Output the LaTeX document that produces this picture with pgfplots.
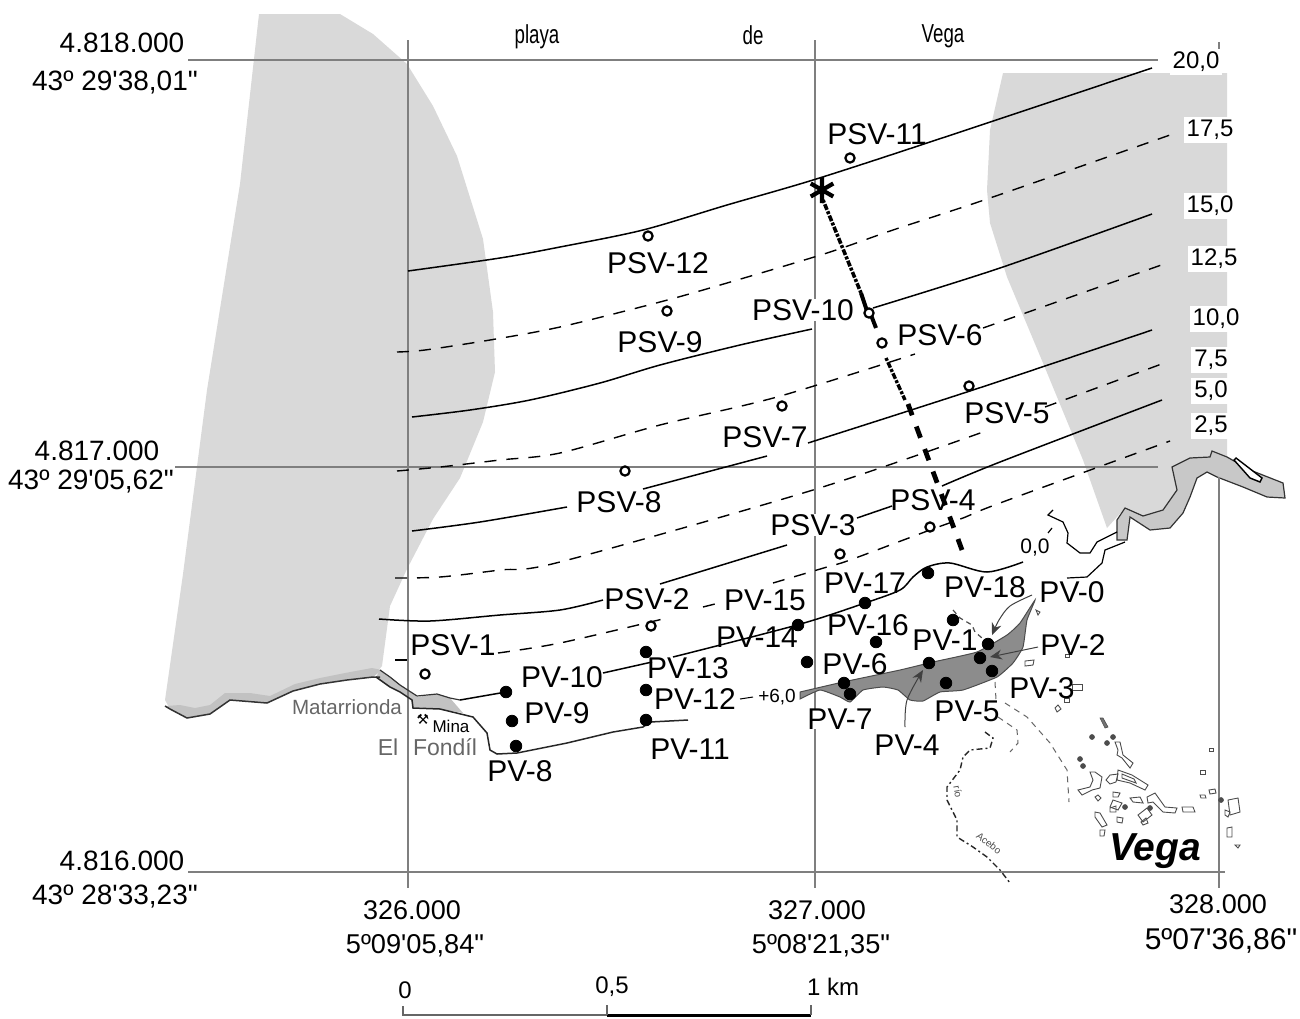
\documentclass[border=0pt]{standalone}
\usepackage{pgfplots}
\pgfplotsset{compat=1.18}
\usepackage{fontspec}
\usetikzlibrary{arrows.meta}
\newfontfamily\ls{Liberation Sans}
\newfontfamily\dv{DejaVu Sans}
\definecolor{lg}{HTML}{D9D9D9}
\definecolor{dg}{HTML}{8C8C8C}
\definecolor{grd}{HTML}{7F7F7F}
\newcommand\lab[4][]{\node[font=\ls\fontsize{15}{15}\selectfont,inner sep=0pt,#1] at (axis cs:#2,#3) {#4};}
\newcommand\clab[3]{\node[font=\ls\fontsize{12}{12}\selectfont,fill=white,inner sep=1.5pt] at (axis cs:#1,#2) {#3};}
\newcommand\cl[1]{\addplot[black,line width=0.75pt,smooth,tension=0.5] coordinates {#1};}
\newcommand\dl[1]{\addplot[black,line width=0.7pt,smooth,tension=0.5,dash pattern=on 6pt off 5pt] coordinates {#1};}
\newcommand\gl[1]{\addplot[grd,line width=0.7pt] coordinates {#1};}
\newcommand\bd[1]{\addplot[draw=black!70,line width=0.45pt] coordinates {#1} -- cycle;}
\begin{document}
\begin{tikzpicture}
\useasboundingbox (0,0) rectangle (650pt,509pt);
\begin{axis}[at={(0,0)},anchor=south west,scale only axis,width=650pt,height=509pt,xmin=0,xmax=1300,ymin=0,ymax=1018,y dir=reverse,axis lines=none,clip=true]
% grey hills
\addplot[fill=lg,draw=none] coordinates {(259,14)(340,14)(373,34)(407,64)(433,106)(457,156)(483,239)(493,312)(495,372)(483,422)(460,478)(433,519)(407,569)(390,606)(382,666)(373,677)(347,680)(320,684)(293,691)(267,703)(230,700)(210,714)(187,718)(170,709)(165,700)(183,574)(207,390)(240,184)} -- cycle;
\addplot[fill=lg,draw=none] coordinates {(1003,73)(1227,73)(1227,457)(1210,457)(1190,458)(1172,467)(1177,490)(1163,510)(1143,516)(1125,508)(1107,528)(1083,460)(1043,363)(1007,277)(990,223)(987,190)(990,130)} -- cycle;
% beach strips
\addplot[fill=black!24,draw=none] coordinates {(166,706)(180,705)(195,708)(210,705)(225,693)(250,693)(270,696)(295,684)(320,678)(345,673)(372,668)(382,670)(373,677)(347,680)(320,684)(293,691)(267,703)(230,700)(210,714)(187,718)(170,709)} -- cycle;
\addplot[fill=black!24,draw=none] coordinates {(380,670)(390,677)(400,685)(417,697)(437,694)(450,698)(463,713)(440,709)(413,707)(412,700)(400,692)(390,687)(376,677)} -- cycle;
\addplot[fill=lg!92!black,draw=black!80,line width=0.6pt] coordinates {(1172,467)(1190,458)(1210,457)(1212,451)(1227,457)(1250,470)(1283,483)(1285,498)(1267,497)(1243,487)(1217,477)(1207,472)(1197,478)(1190,497)(1183,513)(1170,528)(1150,530)(1130,517)(1127,540)(1117,540)(1117,520)(1125,508)(1143,516)(1163,510)(1177,490)} -- cycle;
\addplot[fill=white,draw=black,line width=0.7pt] coordinates {(1236,458)(1262,478)(1260,482)(1250,478)(1234,460)} -- cycle;
% grid
\gl{(188,60)(1158,60)}
\gl{(175,467)(1158,467)}
\gl{(188,872)(1225,872)}
\gl{(408,40)(408,888)}
\gl{(815,40)(815,888)}
\gl{(1219,42)(1219,50)}
\gl{(1219,477)(1219,888)}
% dark pond
\addplot[fill=dg,draw=black!70,line width=0.5pt,smooth,tension=0.25] coordinates {(800,692)(843,682)(900,670)(933,662)(977,652)(1007,635)(1020,623)(1035,600)(1027,620)(1023,647)(1013,663)(997,677)(963,690)(940,692)(923,701)(910,700)(898,690)(883,687)(863,690)(850,702)(840,697)(820,690)(800,699)} -- cycle;
% coast lines
\addplot[black!80,line width=0.75pt] coordinates {(380,677)(373,677)(347,680)(320,684)(293,691)(267,703)(230,700)(210,714)(187,718)(170,709)(165,706)};
\addplot[black!80,line width=0.6pt] coordinates {(380,670)(390,677)(400,685)(417,696)(437,694)(450,698)(460,700)};
\addplot[black!85,line width=0.75pt] coordinates {(376,677)(390,687)(400,692)(412,700)(413,708)(440,709)(473,717)(487,733)(490,750)(497,754)(517,753)(567,743)(613,732)(643,727)(650,722)(688,720)};
\addplot[black,line width=0.6pt,smooth,tension=0.4] coordinates {(1052,528)(1048,533)};
\addplot[black,line width=0.6pt] coordinates {(1053,510)(1048,515)(1063,522)(1068,533)(1067,543)(1080,553)(1090,553)(1097,542)(1117,532)};
\addplot[black,line width=0.6pt] coordinates {(1125,542)(1105,550)(1102,563)(1087,577)(1067,578)};
% contours
\cl{(408,271)(500,258)(560,247)(643,230)(727,205)(813,180)(927,143)(1152,68)}
\dl{(397,352)(425,350)(490,340)(560,327)(660,302)(727,283)(827,253)(893,230)(990,198)(1170,135)}
\cl{(412,417)(470,410)(530,400)(600,383)(660,365)(740,345)(812,329)}
\cl{(873,308)(1000,268)(1152,214)}
\dl{(397,471)(440,467)(500,460)(560,453)(660,425)(777,397)(915,354)}
\dl{(983,328)(1167,263)}
\cl{(412,531)(480,522)(567,507)}
\cl{(643,489)(767,456)}
\cl{(808,443)(973,390)(1152,330)}
\dl{(395,578)(440,577)(500,570)(560,562)(813,490)(983,432)}
\dl{(1045,407)(1167,362)}
\cl{(379,619)(430,621)(500,615)(560,610)(603,600)}
\cl{(660,584)(787,545)}
\cl{(857,518)(892,506)}
\cl{(942,486)(1000,462)(1162,400)}
\dl{(395,660)(407,660)}
\dl{(498,653)(560,643)(667,618)}
\dl{(703,607)(715,604)}
\dl{(773,583)(827,567)(850,560)(930,530)(963,518)(1000,503)(1170,441)}
\cl{(460,700)(506,692)}
\cl{(603,673)(652,662)}
\cl{(673,657)(797,625)(865,603)(900,590)(913,577)(927,567)(950,563)(987,572)(1023,562)}
% profile line
\addplot[black,line width=1.8pt,dash pattern=on 1.5pt off 0.8pt on 3pt off 0.8pt] coordinates {(823,200)(861,293)};
\addplot[black,line width=2pt] coordinates {(861,293)(867,311)};
\addplot[black,line width=2pt] coordinates {(871,315)(876,328)};
\addplot[black,line width=1.7pt,dash pattern=on 1.5pt off 0.8pt on 3pt off 0.8pt] coordinates {(886,358)(905,400)};
\addplot[black,line width=2.4pt,dash pattern=on 6pt off 6pt] coordinates {(908,404)(962,550)};
\addplot[only marks,mark=asterisk,mark size=6.5pt,mark options={line width=2.1pt,black}] coordinates {(822,190)};
% small dashes
\addplot[black!70,line width=0.6pt,dash pattern=on 2.5pt off 2pt] coordinates {(953,610)(960,618)(972,625)(975,632)(982,638)};
\addplot[black!85,line width=0.7pt,dash pattern=on 3pt off 1.5pt on 1pt off 1.5pt] coordinates {(985,732)(993,738)(990,748)(970,750)(963,757)(960,770)(947,787)(947,800)(957,820)(957,837)(973,847)(987,857)(1000,870)(1010,883)};
\addplot[black!60,line width=0.5pt,dash pattern=on 3pt off 2.5pt] coordinates {(995,682)(996,700)};
\addplot[black!60,line width=0.5pt,dash pattern=on 3pt off 2.5pt] coordinates {(1005,703)(1027,717)(1050,743)(1067,770)(1069,802)};
\addplot[black!60,line width=0.5pt,dash pattern=on 3pt off 2.5pt] coordinates {(998,717)(1017,730)(1018,743)(1010,752)};
% buildings
\addplot[fill=black!55,draw=black!70,line width=0.3pt] coordinates {(1100,718)(1103,718)(1108,727)(1105,728)} -- cycle;
\bd{(1115,742)(1120,742)(1123,755)(1133,763)(1130,768)(1122,758)(1117,755)(1118,750)}
\bd{(1078,790)(1090,787)(1093,780)(1090,772)(1095,772)(1102,777)(1100,788)(1092,790)(1082,795)}
\bd{(1106,780)(1110,775)(1118,774)(1116,782)(1110,784)}
\bd{(1118,770)(1132,775)(1148,785)(1145,790)(1130,783)(1117,780)}
\bd{(1122,774)(1134,779)(1136,783)(1122,778)}
\bd{(1113,792)(1120,793)(1118,797)(1113,797)}
\bd{(1113,800)(1122,803)(1118,810)(1110,807)}
\bd{(1110,808)(1116,806)(1116,812)(1110,812)}
\bd{(1117,817)(1123,818)(1122,823)(1117,822)}
\bd{(1095,812)(1100,813)(1107,825)(1102,827)(1095,817)}
\bd{(1100,830)(1105,830)(1104,836)(1100,836)}
\bd{(1130,798)(1140,797)(1143,803)(1133,802)}
\bd{(1147,797)(1155,793)(1165,807)(1177,808)(1175,813)(1163,812)(1153,802)(1148,803)}
\bd{(1138,815)(1147,808)(1152,815)(1143,822)}
\bd{(1141,822)(1146,818)(1148,823)(1143,825)}
\bd{(1182,807)(1193,807)(1195,812)(1183,812)}
\bd{(1209,790)(1215,789)(1216,793)(1210,794)}
\bd{(1200,770)(1205,770)(1205,774)(1200,774)}
\bd{(1200,795)(1205,795)(1206,798)(1201,798)}
\bd{(1209,748)(1213,748)(1213,751)(1209,751)}
\bd{(1228,800)(1238,798)(1240,812)(1230,815)}
\bd{(1225,810)(1230,812)(1228,817)(1225,815)}
\bd{(1227,828)(1232,827)(1232,837)(1227,837)}
\bd{(1235,845)(1240,845)(1238,848)}
\bd{(1095,797)(1098,795)(1101,798)(1098,801)}
\bd{(1055,708)(1058,705)(1061,709)(1057,712)}
\bd{(1025,661)(1034,660)(1033,665)(1025,666)}
\bd{(1065,654)(1069,654)(1069,657)(1065,657)}
\bd{(1072,684)(1082,684)(1082,690)(1072,690)}
\bd{(1064,698)(1069,698)(1069,702)(1064,702)}
\bd{(1036,610)(1040,612)(1038,615)}
\addplot[only marks,mark=*,mark size=1.2pt,black!70] coordinates {(1092,737)(1107,743)(1080,759)(1083,766)(1113,737)(1221,800)(1125,807)(1150,808)};
% arrows
\addplot[black!75,line width=0.5pt,smooth,-{Stealth[length=6pt,width=5pt]}] coordinates {(1032,595)(1010,606)(999,620)(992,635)};
\addplot[black!75,line width=0.5pt,-{Stealth[length=6pt,width=5pt]}] coordinates {(1038,647)(990,657)};
\addplot[black!75,line width=0.5pt,smooth,-{Stealth[length=6pt,width=5pt]}] coordinates {(905,727)(907,700)(923,670)};
% points
\addplot[only marks,mark=*,mark size=2.9pt,black] coordinates {(988,644)(980,658)(992,671)(946,683)(929,663)(844,683)(850,694)(876,642)(807,662)(953,620)(865,603)(928,573)(798,625)(646,652)(646,690)(646,720)(506,692)(512,721)(516,746)};
\addplot[only marks,mark=*,mark size=2.3pt,mark options={fill=white,draw=black,line width=1.1pt}] coordinates {(425,674)(651,626)(840,554)(930,527)(969,386)(882,343)(782,406)(625,471)(667,311)(869,313)(850,158)(648,236)};
% point labels
\lab{877}{134}{PSV-11}
\lab{658}{263}{PSV-12}
\lab{660}{342}{PSV-9}
\lab[fill=white]{803}{310}{PSV-10}
\lab{940}{335}{PSV-6}
\lab{765}{437}{PSV-7}
\lab{1007}{413}{PSV-5}
\lab{619}{502}{PSV-8}
\lab{933}{500}{PSV-4}
\lab[fill=white]{813}{525}{PSV-3}
\lab{647}{599}{PSV-2}
\lab{453}{645}{PSV-1}
\lab{865}{583}{PV-17}
\lab{985}{587}{PV-18}
\lab{1072}{592}{PV-0}
\lab{765}{600}{PV-15}
\lab{868}{625}{PV-16}
\lab{757}{637}{PV-14}
\lab{945}{640}{PV-1}
\lab{1073}{645}{PV-2}
\lab{855}{664}{PV-6}
\lab{688}{668}{PV-13}
\lab{1042}{688}{PV-3}
\lab{562}{677}{PV-10}
\lab{695}{699}{PV-12}
\lab{557}{713}{PV-9}
\lab{967}{711}{PV-5}
\lab[fill=white]{840}{719}{PV-7}
\lab{907}{745}{PV-4}
\lab{690}{749}{PV-11}
\lab{520}{771}{PV-8}
% contour labels
\clab{1196}{62}{20,0}
\clab{1210}{130}{17,5}
\clab{1210}{206}{15,0}
\clab{1214}{259}{12,5}
\clab{1216}{319}{10,0}
\clab{1211}{360}{7,5}
\clab{1211}{391}{5,0}
\clab{1211}{426}{2,5}
\node[font=\ls\fontsize{10.5}{10.5}\selectfont,inner sep=0pt] at (axis cs:1035,547) {0,0};
\node[font=\ls\fontsize{9.5}{9.5}\selectfont,inner sep=0pt] at (axis cs:777,697) {+6,0};
\addplot[black,line width=0.5pt] coordinates {(740,699)(753,697)};
% place names
\node[font=\ls\fontsize{10.3}{10.3}\selectfont,text=black!60,inner sep=0pt] at (axis cs:347,707) {Matarrionda};
\node[font=\ls\fontsize{11.5}{11.5}\selectfont,text=black!60,inner sep=0pt] at (axis cs:388,747) {El};
\node[font=\ls\fontsize{11.5}{11.5}\selectfont,text=black!60,inner sep=0pt] at (axis cs:445,747) {Fond\'{\i}l};
\node[font=\ls\fontsize{8.5}{8.5}\selectfont,inner sep=0pt] at (axis cs:451,726) {Mina};
\node[font=\dv\fontsize{7}{7}\selectfont,inner sep=0pt] at (axis cs:423,719) {⚒};
\node[font=\ls\fontsize{5}{5}\selectfont,inner sep=0pt,rotate=-80,text=black!70] at (axis cs:958,792) {r\'{\i}o};
\node[font=\ls\fontsize{5}{5}\selectfont,inner sep=0pt,rotate=-38,text=black!70] at (axis cs:989,843) {Acebo};
\node[font=\ls\bfseries\itshape\fontsize{19.5}{19.5}\selectfont,inner sep=0pt] at (axis cs:1155,851) {Vega};
\node[font=\ls\fontsize{13}{13}\selectfont,xscale=0.72,inner sep=0pt] at (axis cs:537,37) {playa};
\node[font=\ls\fontsize{13}{13}\selectfont,xscale=0.72,inner sep=0pt] at (axis cs:753,35) {de};
\node[font=\ls\fontsize{13}{13}\selectfont,xscale=0.72,inner sep=0pt] at (axis cs:943,36) {Vega};
% coordinates
\newcommand\cc[4][14]{\node[font=\ls\fontsize{#1}{#1}\selectfont,inner sep=0pt] at (axis cs:#2,#3) {#4};}
\cc[14]{122}{43}{4.818.000}
\cc[14]{115}{82}{43º 29'38,01"}
\cc[14]{97}{451}{4.817.000}
\cc[14]{91}{481}{43º 29'05,62"}
\cc[14]{122}{861}{4.816.000}
\cc[14]{115}{896}{43º 28'33,23"}
\cc[13.5]{412}{910}{326.000}
\cc[13.6]{415}{946}{5º09'05,84"}
\cc[13.5]{817}{910}{327.000}
\cc[13.6]{821}{946}{5º08'21,35"}
\cc[13.5]{1218}{904}{328.000}
\cc[15]{1221}{941}{5º07'36,86"}
\cc[12]{405}{990}{0}
\cc[12]{612}{987}{0,5}
\cc[12]{833}{987}{1 km}
% scale bar
\addplot[black!60,line width=0.6pt] coordinates {(403,1006)(403,1015)(607,1015)};
\addplot[black,line width=1.4pt] coordinates {(607,1015.5)(811,1015.5)};
\addplot[black!60,line width=0.6pt] coordinates {(607,1005)(607,1015)};
\addplot[black!60,line width=0.6pt] coordinates {(811,1005)(811,1015)};
\end{axis}
\end{tikzpicture}
\end{document}
